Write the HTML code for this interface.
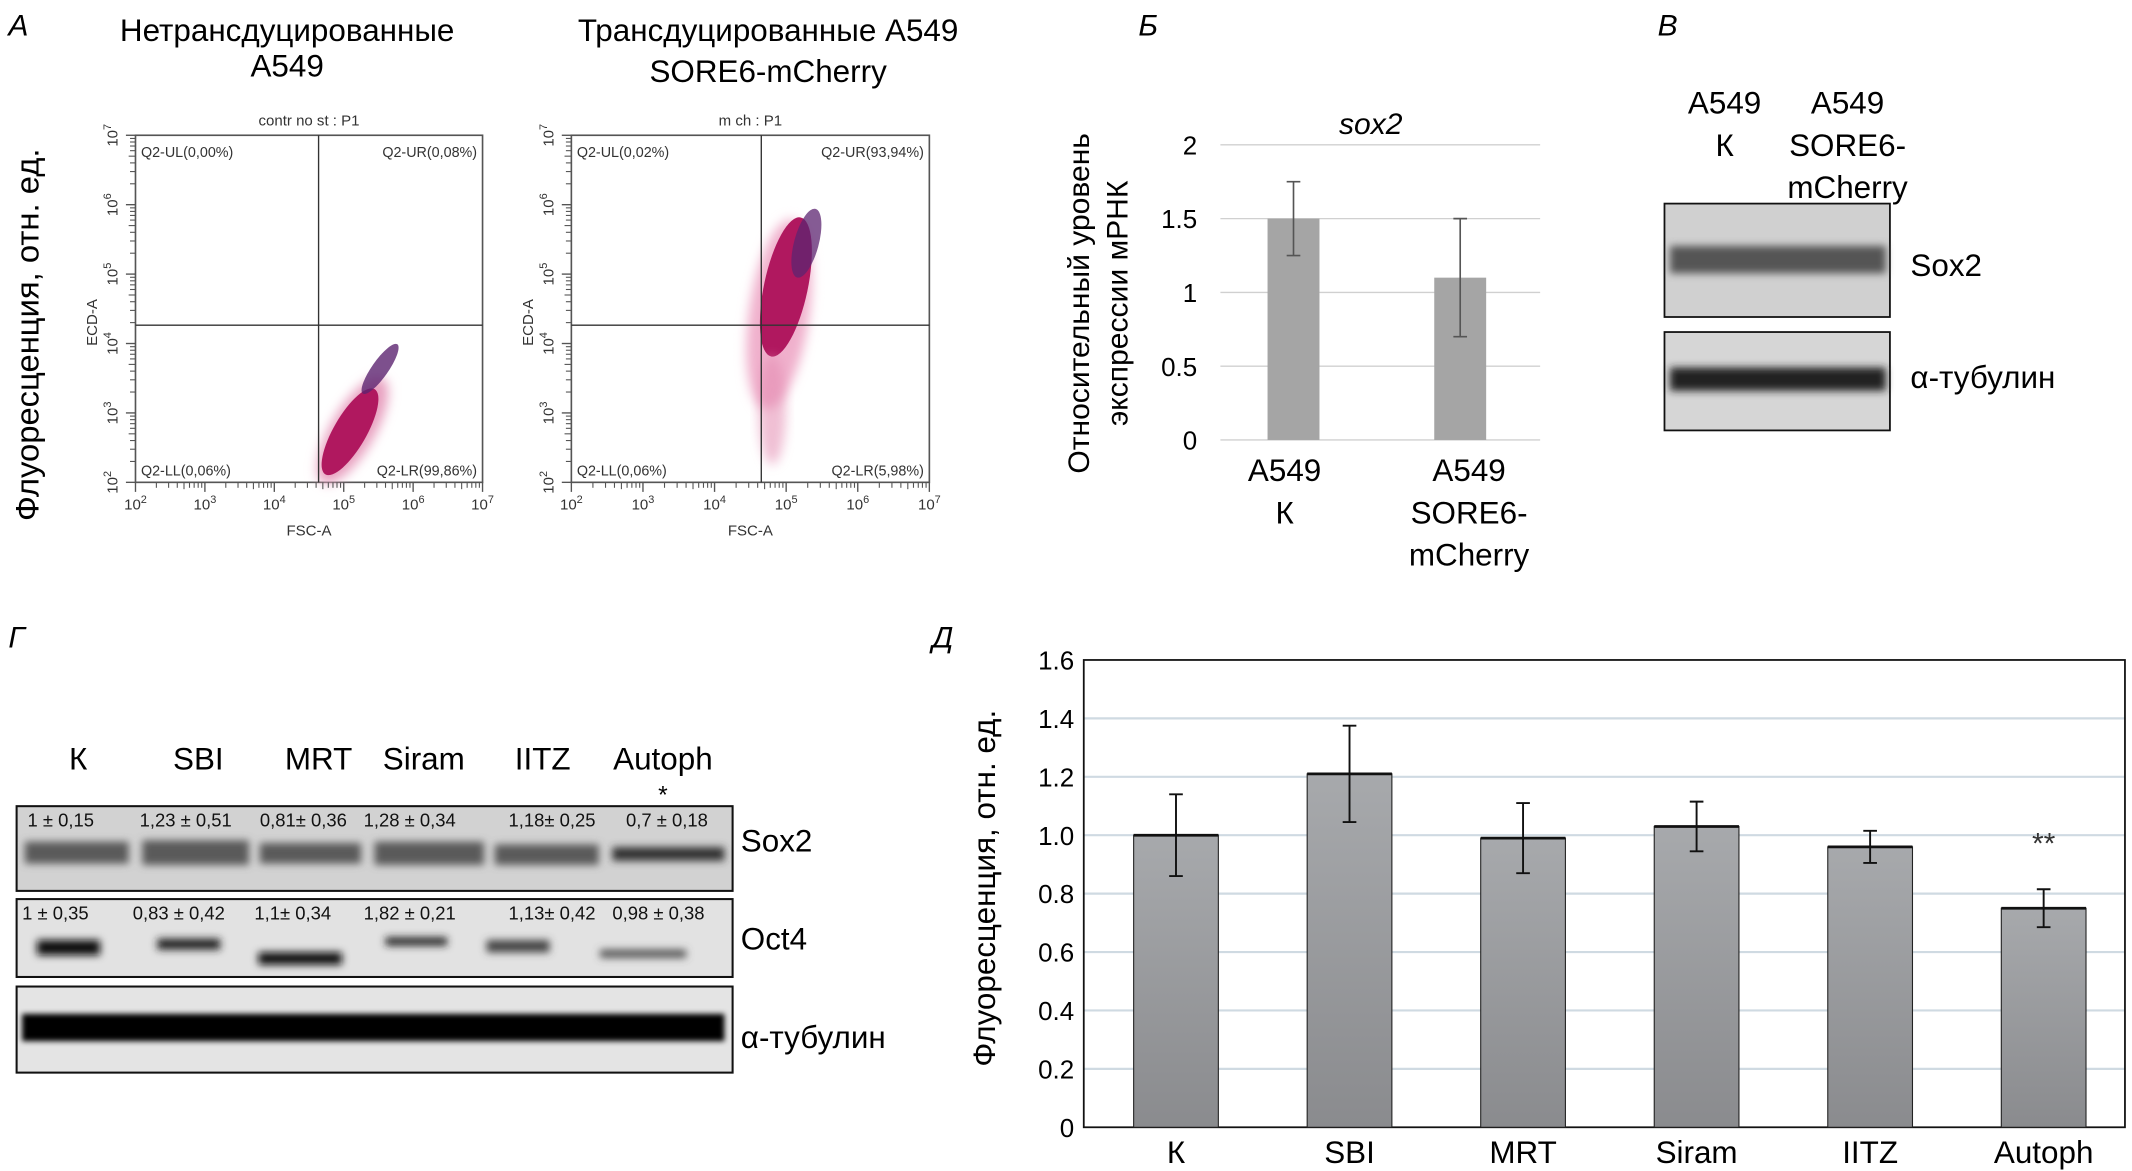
<!DOCTYPE html>
<html><head><meta charset="utf-8">
<style>
html,body{margin:0;padding:0;background:#fff;}
svg{display:block;font-family:"Liberation Sans","DejaVu Sans",sans-serif;}
</style></head>
<body>
<svg id="fig" width="2132" height="1171" viewBox="0 0 1560 857" xmlns="http://www.w3.org/2000/svg">
<defs>
<filter id="blur3" x="-20%" y="-100%" width="140%" height="300%"><feGaussianBlur stdDeviation="3"/></filter>
<filter id="blur2" x="-20%" y="-100%" width="140%" height="300%"><feGaussianBlur stdDeviation="2"/></filter>
<filter id="blur6" x="-30%" y="-30%" width="160%" height="160%"><feGaussianBlur stdDeviation="4"/></filter>
<linearGradient id="barg" x1="0" y1="0" x2="0" y2="1"><stop offset="0" stop-color="#a7a9ac"/><stop offset="1" stop-color="#8a8b8e"/></linearGradient>
</defs>

<!-- Panel A -->
<g font-size="23">
<text x="6" y="26" font-style="italic" font-size="22">А</text>
<text x="210" y="30" text-anchor="middle">Нетрансдуцированные</text>
<text x="210" y="56" text-anchor="middle">A549</text>
<text x="562" y="30" text-anchor="middle">Трансдуцированные A549</text>
<text x="562" y="60" text-anchor="middle">SORE6-mCherry</text>
<text transform="translate(28,245) rotate(-90)" text-anchor="middle" font-size="24">Флуоресценция, отн. ед.</text>
</g>
<g id="flow1"></g>
<g id="flow2"></g>

<!-- Panel B -->
<g>
<text x="833" y="26" font-style="italic" font-size="22">Б</text>
<text x="1003" y="98" text-anchor="middle" font-style="italic" font-size="22">sox2</text>
<text transform="translate(797,222) rotate(-90)" text-anchor="middle" font-size="22">Относительный уровень</text>
<text transform="translate(825,222) rotate(-90)" text-anchor="middle" font-size="22">экспрессии мРНК</text>
<g id="chartB"></g>
<g font-size="23" text-anchor="middle">
<text x="940" y="352">A549</text>
<text x="940" y="383">К</text>
<text x="1075" y="352">A549</text>
<text x="1075" y="383">SORE6-</text>
<text x="1075" y="414">mCherry</text>
</g>
</g>

<!-- Panel V -->
<g font-size="23">
<text x="1213" y="26" font-style="italic" font-size="22">В</text>
<g text-anchor="middle">
<text x="1262" y="83">A549</text>
<text x="1262" y="114">К</text>
<text x="1352" y="83">A549</text>
<text x="1352" y="114">SORE6-</text>
<text x="1352" y="145">mCherry</text>
</g>
<rect x="1218" y="149" width="165" height="83" fill="#d0d0d0" stroke="#111" stroke-width="1.3"/>
<rect x="1222" y="180" width="158" height="20" fill="#555" filter="url(#blur3)"/>
<rect x="1218" y="243" width="165" height="72" fill="#d6d6d6" stroke="#111" stroke-width="1.3"/>
<rect x="1222" y="269" width="158" height="17" fill="#222" filter="url(#blur3)"/>
<text x="1398" y="202">Sox2</text>
<text x="1398" y="284">α-тубулин</text>
</g>

<!-- Panel G -->
<g font-size="23">
<text x="6" y="474" font-style="italic" font-size="22">Г</text>
<g text-anchor="middle">
<text x="57" y="563">К</text>
<text x="145" y="563">SBI</text>
<text x="233" y="563">MRT</text>
<text x="310" y="563">Siram</text>
<text x="397" y="563">IITZ</text>
<text x="485" y="563">Autoph</text>
<text x="485" y="588" font-size="18">*</text>
</g>
<rect x="12" y="590" width="524" height="62" fill="#d2d2d2" stroke="#111" stroke-width="1.5"/>
<g fill="#5a5a5a" filter="url(#blur3)">
<rect x="18" y="616" width="76" height="16"/><rect x="104" y="615" width="78" height="18"/><rect x="190" y="617" width="74" height="15"/><rect x="274" y="616" width="80" height="17"/><rect x="362" y="618" width="76" height="15"/><rect x="448" y="620" width="82" height="10" fill="#333"/>
</g>
<rect x="12" y="658" width="524" height="57" fill="#e2e2e2" stroke="#111" stroke-width="1.5"/>
<g fill="#111" filter="url(#blur3)">
<rect x="27" y="688" width="46" height="11"/><rect x="115" y="687" width="46" height="8" fill="#222"/><rect x="189" y="697" width="61" height="9"/><rect x="282" y="686" width="45" height="6" fill="#222"/><rect x="356" y="688" width="46" height="9" fill="#444"/><rect x="439" y="695" width="63" height="6" fill="#555"/>
</g>
<rect x="12" y="722" width="524" height="63" fill="#e4e4e4" stroke="#111" stroke-width="1.5"/>
<rect x="16" y="742" width="514" height="20" fill="#000" filter="url(#blur2)"/>
<g font-size="13.5" fill="#111">
<text x="20" y="605">1 ± 0,15</text><text x="102" y="605">1,23 ± 0,51</text><text x="190" y="605">0,81± 0,36</text><text x="266" y="605">1,28 ± 0,34</text><text x="372" y="605">1,18± 0,25</text><text x="458" y="605">0,7 ± 0,18</text>
<text x="16" y="673">1 ± 0,35</text><text x="97" y="673">0,83 ± 0,42</text><text x="186" y="673">1,1± 0,34</text><text x="266" y="673">1,82 ± 0,21</text><text x="372" y="673">1,13± 0,42</text><text x="448" y="673">0,98 ± 0,38</text>
</g>
<text x="542" y="623">Sox2</text>
<text x="542" y="695">Oct4</text>
<text x="542" y="767">α-тубулин</text>
</g>

<!-- Panel D -->
<g>
<text x="682" y="474" font-style="italic" font-size="22">Д</text>
<text transform="translate(728,650) rotate(-90)" text-anchor="middle" font-size="23">Флуоресценция, отн. ед.</text>
<g id="chartD"></g>
</g>

<script>
// ---- Panel Б data ----
const bCategories = ["A549 К", "A549 SORE6-mCherry"];
const bValues = [1.5, 1.1];
const bErrors = [0.25, 0.4];
const bTicks = [0, 0.5, 1, 1.5, 2];
const bTickLabels = ["0", "0.5", "1", "1.5", "2"];
// ---- Panel Д data ----
const dCategories = ["К", "SBI", "MRT", "Siram", "IITZ", "Autoph"];
const dValues = [1.0, 1.21, 0.99, 1.03, 0.96, 0.75];
const dErrors = [0.14, 0.165, 0.12, 0.085, 0.055, 0.065];
const dTicks = [0, 0.2, 0.4, 0.6, 0.8, 1.0, 1.2, 1.4, 1.6];
const dTickLabels = ["0", "0.2", "0.4", "0.6", "0.8", "1.0", "1.2", "1.4", "1.6"];
const dSignif = ["", "", "", "", "", "**"];
// ---- Flow plot quadrant labels ----
const flow1Labels = ["Q2-UL(0,00%)", "Q2-UR(0,08%)", "Q2-LL(0,06%)", "Q2-LR(99,86%)"];
const flow2Labels = ["Q2-UL(0,02%)", "Q2-UR(93,94%)", "Q2-LL(0,06%)", "Q2-LR(5,98%)"];
const logTicks = [2, 3, 4, 5, 6, 7];

const NS = "http://www.w3.org/2000/svg";
function mk(parent, tag, attrs, text) {
  const e = document.createElementNS(NS, tag);
  for (const k in attrs) e.setAttribute(k, attrs[k]);
  if (text !== undefined) e.textContent = text;
  parent.appendChild(e);
  return e;
}

// ---------- Panel Б ----------
(function () {
  const g = document.getElementById("chartB");
  const x0 = 893, x1 = 1127, yTop = 106, yBot = 322, vmax = 2;
  const y = v => yBot - (v / vmax) * (yBot - yTop);
  const band = (x1 - x0) / bCategories.length;
  bTicks.forEach((t, i) => {
    const l = mk(g, "line", { x1: x0, x2: x1, y1: y(t), y2: y(t), stroke: "#d0d0d0", "stroke-width": 1 });
    
    
    const tx = mk(g, "text", { x: 876, y: y(t) + 7, "text-anchor": "end", "font-size": 19 }, bTickLabels[i]);
    
    
  });
  bValues.forEach((v, i) => {
    const cx = x0 + band * (i + 0.5) - 5 + i * 5;
    const r = mk(g, "rect", { x: cx - 19, y: y(v), width: 38, height: yBot - y(v), fill: "#a5a5a5" });
    
    
    const e = bErrors[i];
    const eb = mk(g, "path", { d: `M${cx},${y(v + e)}V${y(v - e)}M${cx - 5},${y(v + e)}H${cx + 5}M${cx - 5},${y(v - e)}H${cx + 5}`, stroke: "#555", "stroke-width": 1.2, fill: "none" });
    
    
  });
})();

// ---------- Panel Д ----------
(function () {
  const g = document.getElementById("chartD");
  const x0 = 793, x1 = 1555, yTop = 483, yBot = 825, vmax = 1.6;
  const y = v => yBot - (v / vmax) * (yBot - yTop);
  const band = (x1 - x0) / dCategories.length;
  dTicks.forEach((t, i) => {
    if (t > 0 && t < vmax) {
      const l = mk(g, "line", { x1: x0, x2: x1, y1: y(t), y2: y(t), stroke: "#cfdae2", "stroke-width": 1.6 });
      
      
    }
    const tx = mk(g, "text", { x: 786, y: y(t) + 7, "text-anchor": "end", "font-size": 19 }, dTickLabels[i]);
    
    
  });
  const frame = mk(g, "rect", { x: x0, y: yTop, width: x1 - x0, height: yBot - yTop, fill: "none", stroke: "#111", "stroke-width": 1.3 });
  
  
  dValues.forEach((v, i) => {
    const cx = x0 + band * (i + 0.5) + 4;
    const r = mk(g, "rect", { x: cx - 31, y: y(v), width: 62, height: yBot - y(v), fill: "url(#barg)", stroke: "#222", "stroke-width": 0.8 });
    
    
    const top = mk(g, "line", { x1: cx - 31, x2: cx + 31, y1: y(v), y2: y(v), stroke: "#111", "stroke-width": 2 });
    
    
    const e = dErrors[i];
    const eb = mk(g, "path", { d: `M${cx},${y(v + e)}V${y(v - e)}M${cx - 5},${y(v + e)}H${cx + 5}M${cx - 5},${y(v - e)}H${cx + 5}`, stroke: "#111", "stroke-width": 1.4, fill: "none" });
    
    
    const lb = mk(g, "text", { x: cx, y: 851, "text-anchor": "middle", "font-size": 23 }, dCategories[i]);
    
    
    if (dSignif[i]) {
      const s = mk(g, "text", { x: cx, y: y(v + e) + 2 - 28, "text-anchor": "middle", "font-size": 22, fill: "#333" }, dSignif[i]);
      
      
    }
  });
})();

// ---------- Flow plots ----------
function flow(id, L, R, T, B, qx, qy, title, labels, cloud) {
  const g = document.getElementById(id);
  const sx = (R - L) / 5, sy = (B - T) / 5;
  mk(g, "rect", { x: L, y: T, width: R - L, height: B - T, fill: "#fff", stroke: "#555", "stroke-width": 1.2 });
  cloud(g);
  mk(g, "line", { x1: qx, x2: qx, y1: T, y2: B, stroke: "#333", "stroke-width": 1 });
  mk(g, "line", { x1: L, x2: R, y1: qy, y2: qy, stroke: "#333", "stroke-width": 1 });
  const t = mk(g, "text", { x: (L + R) / 2, y: T - 7, "text-anchor": "middle", "font-size": 11, fill: "#333" }, title);
  
  
  const fs = 10.5;
  [[L + 4, T + 16, "start"], [R - 4, T + 16, "end"], [L + 4, B - 5, "start"], [R - 4, B - 5, "end"]].forEach((p, i) => {
    const q = mk(g, "text", { x: p[0], y: p[1], "text-anchor": p[2], "font-size": fs, fill: "#333" }, labels[i]);
    
    
  });
  logTicks.forEach((p, i) => {
    const xx = L + i * sx, yy = B - i * sy;
    const a = mk(g, "text", { x: xx, y: B + 20, "text-anchor": "middle", "font-size": 11, fill: "#333" });
    
    
    a.textContent = "10";
    mk(a, "tspan", { dy: -5, "font-size": 8 }, String(p));
    const b = mk(g, "text", { transform: `translate(${L - 13},${yy}) rotate(-90)`, "text-anchor": "middle", "font-size": 11, fill: "#333" });
    
    
    b.textContent = "10";
    mk(b, "tspan", { dy: -5, "font-size": 8 }, String(p));
    if (i < 5) {
      for (let m = 2; m <= 9; m++) {
        const f = Math.log10(m);
        mk(g, "line", { x1: xx + f * sx, x2: xx + f * sx, y1: B, y2: B + (m === 5 ? 5 : 4), stroke: "#555", "stroke-width": 0.8 });
        mk(g, "line", { x1: L, x2: L - (m === 5 ? 5 : 4), y1: yy - f * sy, y2: yy - f * sy, stroke: "#555", "stroke-width": 0.8 });
      }
    }
    mk(g, "line", { x1: xx, x2: xx, y1: B, y2: B + 7, stroke: "#555", "stroke-width": 1 });
    mk(g, "line", { x1: L, x2: L - 7, y1: yy, y2: yy, stroke: "#555", "stroke-width": 1 });
  });
  const xt = mk(g, "text", { x: (L + R) / 2, y: B + 39, "text-anchor": "middle", "font-size": 11, fill: "#333" }, "FSC-A");
  
  
  const yt = mk(g, "text", { transform: `translate(${L - 28},${(T + B) / 2 + 10}) rotate(-90)`, "text-anchor": "middle", "font-size": 11, fill: "#333" }, "ECD-A");
  
  
}
flow("flow1", 99, 353, 99, 353, 233, 238, "contr no st : P1", flow1Labels, g => {
  mk(g, "ellipse", { cx: 258, cy: 315, rx: 16, ry: 44, transform: "rotate(30 258 315)", fill: "#e8a0c0", filter: "url(#blur6)" });
  mk(g, "ellipse", { cx: 256, cy: 316, rx: 12, ry: 36, transform: "rotate(30 256 316)", fill: "#b0185f" });
  mk(g, "ellipse", { cx: 278, cy: 270, rx: 6, ry: 22, transform: "rotate(35 278 270)", fill: "#5c2470", opacity: 0.8 });
});
flow("flow2", 418, 680, 99, 353, 557, 238, "m ch : P1", flow2Labels, g => {
  mk(g, "ellipse", { cx: 570, cy: 230, rx: 22, ry: 70, transform: "rotate(8 570 230)", fill: "#f0b0cc", filter: "url(#blur6)" });
  mk(g, "ellipse", { cx: 575, cy: 210, rx: 16, ry: 52, transform: "rotate(12 575 210)", fill: "#b0185f" });
  mk(g, "ellipse", { cx: 590, cy: 178, rx: 9, ry: 26, transform: "rotate(15 590 178)", fill: "#5c2470", opacity: 0.75 });
  mk(g, "ellipse", { cx: 565, cy: 300, rx: 10, ry: 40, fill: "#e38ab0", opacity: 0.55, filter: "url(#blur6)" });
});
</script>
</svg>
</body></html>
